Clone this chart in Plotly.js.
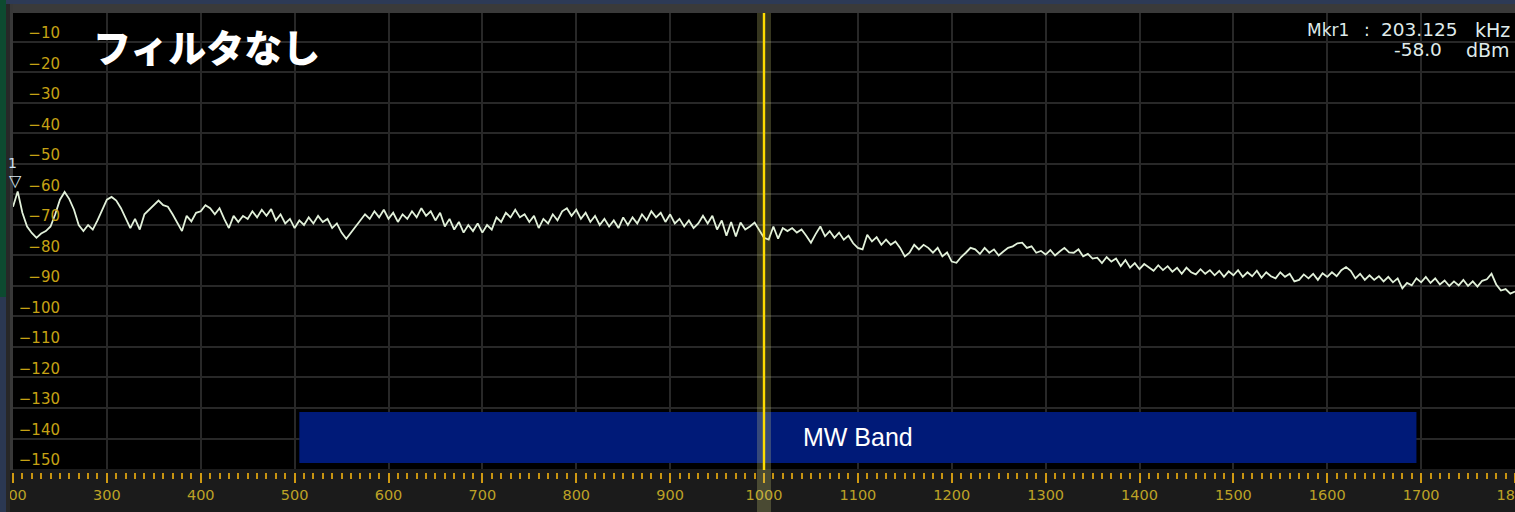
<!DOCTYPE html>
<html><head><meta charset="utf-8">
<script src="https://cdn.plot.ly/plotly-3.0.1.min.js"></script>
<style>html,body{margin:0;padding:0;background:#1b1b1b;overflow:hidden}#chart{width:1515px;height:512px}</style>
</head><body><div id="chart"></div>
<script>
// ---- data ----
const freqStartKHz = 200;
const freqStepKHz = 5;
const levelsDbm = [
-64,-59,-66,-70.5,-72.6,-74.2,-72.8,-72,-70.5,-66.5,
-61.7,-59.2,-61.5,-65,-70,-72,-70,-71.5,-68.5,-65,
-61.7,-60.8,-62,-64.5,-67.5,-71,-68,-71.5,-66.5,-65,
-63.5,-62,-63.5,-64,-66.5,-69.5,-72,-67,-68.8,-66,
-65.5,-63.5,-64.5,-66.5,-64.5,-68,-71,-67,-69,-67,
-68,-65.5,-67.5,-65,-67,-64.8,-68.5,-66.5,-69.5,-68,
-71,-68.5,-70,-67.5,-69.5,-67,-69,-68,-71,-69.5,
-72.5,-74.5,-72.5,-70.5,-68.5,-66.5,-68,-65.5,-67.5,-65,
-68,-66,-69,-66.5,-68,-65.5,-67.5,-64.5,-67,-65.5,
-68.5,-66,-70.5,-68,-71.5,-69,-72.5,-70,-72,-69.5,
-72.5,-70,-71.5,-67.5,-69,-66,-67.5,-65,-67.5,-66.5,
-69,-67,-71,-68,-69.5,-66.5,-68.5,-65.5,-64.5,-67,
-65,-68,-66,-69,-67,-70,-68,-70.5,-68.5,-71,
-67.5,-70,-67.5,-69.5,-66.5,-68.5,-65.5,-67.5,-66,-69,
-66.5,-69.5,-68,-70.5,-68.5,-71,-69.5,-67,-69.5,-67,
-71.5,-68.5,-73.5,-69,-73.8,-69.2,-71.5,-70.5,-69.2,-71.5,
-74.2,-74.8,-70.5,-74.5,-71,-72,-71,-72.5,-71.5,-73.5,
-75.8,-73,-70.5,-73.7,-72,-74.2,-72.5,-74.8,-73.5,-76,
-77.5,-78,-73.2,-75.4,-74,-76.5,-74.8,-76.5,-75.4,-77.5,
-80.3,-79.1,-76.5,-78,-76.5,-77.5,-79.1,-77.5,-80.3,-79,
-82,-82.4,-80.5,-79.1,-77.5,-78,-79.5,-77.5,-79.1,-78,
-80,-78.7,-77.5,-77,-76,-75.8,-77.5,-77,-79.1,-78.5,
-79.7,-78.2,-80,-78.7,-77.5,-79,-79.1,-78,-80.3,-79.5,
-81,-80.7,-82.5,-80.5,-82,-81,-83.5,-81.5,-84,-82.5,
-84.5,-82.8,-84,-85,-83.2,-84.8,-83.5,-85.3,-84,-86,
-84,-85.5,-86.2,-84.5,-86,-84.8,-86.5,-85,-87,-85.2,
-86.5,-84.8,-87,-85.5,-86.8,-85,-87.3,-85.5,-86.8,-87.5,
-85.5,-87,-86,-88.5,-88,-86.2,-87.5,-86,-88,-85.8,
-87,-85.5,-86.8,-84.8,-83.8,-85,-87.5,-86,-88,-86.5,
-88,-86.8,-88.5,-87,-88.8,-87.5,-90.8,-89,-89.8,-87.5,
-88.8,-87,-89,-87.5,-89.5,-88.2,-90,-88.5,-89.8,-88,
-90,-88.5,-90.2,-88.3,-87.8,-86,-89.5,-91.5,-91,-92.5,
-91.8
];
const freqKHz = levelsDbm.map((_, i) => freqStartKHz + i * freqStepKHz);
const xTickVals = [200,300,400,500,600,700,800,900,1000,1100,1200,1300,1400,1500,1600,1700,1800];
const yTickVals = [-10,-20,-30,-40,-50,-60,-70,-80,-90,-100,-110,-120,-130,-140,-150];
const markerFreqKHz = [203.125];
const markerLevelDbm = [-58.0];
const tunedFreqKHz = [1000];
const mwBandKHz = [505, 1695];
const mwBandLevelDbm = [-148, -131.3];
const titleText = 'フィルタなし';
const bandLabel = 'MW Band';

// ---- layout helpers (pixel -> paper) ----
const W = 1515, H = 512, mL = 13, mR = 0, mT = 13, mB = 43;
const pw = W - mL - mR, ph = H - mT - mB;
const px = v => (v - mL) / pw;
const py = v => 1 - (v - mT) / ph;

const labelColor = '#c6a214';
const mkrColor = '#dfeaea';

const trace = {
  type: 'scatter', mode: 'lines', x: freqKHz, y: levelsDbm,
  line: {color: '#e2f1da', width: 1.8}, hoverinfo: 'skip', showlegend: false
};

const shapes = [
  {type:'rect', xref:'x', yref:'y', x0: mwBandKHz[0], x1: mwBandKHz[1], y0: mwBandLevelDbm[0], y1: mwBandLevelDbm[1],
   fillcolor:'#001a78', line:{width:0}, layer:'above'},
  {type:'rect', xref:'paper', yref:'paper', x0:-0.01, x1:1.01, y0: py(473), y1: 0, fillcolor:'#1b1b1b', line:{width:0}, layer:'above'},
  {type:'rect', xref:'paper', yref:'paper', x0:-0.02, x1:1.02, y0: py(4), y1: py(-2), fillcolor:'#2d3a56', line:{width:0}, layer:'above'},
  {type:'rect', xref:'paper', yref:'paper', x0:-0.02, x1:1.02, y0: 1, y1: py(4), fillcolor:'#3a3a3a', line:{width:0}, layer:'above'},
  {type:'rect', xref:'paper', yref:'paper', x0: px(-2), x1: px(6), y0: py(297), y1: py(-2), fillcolor:'#0d4a30', line:{width:0}, layer:'above'},
  {type:'rect', xref:'paper', yref:'paper', x0: px(-2), x1: px(6), y0: py(514), y1: py(297), fillcolor:'#2b3852', line:{width:0}, layer:'above'},
  {type:'rect', xref:'paper', yref:'paper', x0: px(6), x1: px(10), y0: py(514), y1: py(4), fillcolor:'#272727', line:{width:0}, layer:'above'},
  {type:'rect', xref:'paper', yref:'paper', x0: px(10), x1: px(13), y0: py(470), y1: py(4), fillcolor:'#383838', line:{width:0}, layer:'above'},
  {type:'rect', xref:'x', yref:'paper', xsizemode:'pixel', xanchor: tunedFreqKHz[0], x0:-7, x1:7, y0: py(512), y1: 1,
   fillcolor:'rgba(225,225,130,0.24)', line:{width:0}, layer:'above'},
  {type:'rect', xref:'x', yref:'paper', xsizemode:'pixel', xanchor: tunedFreqKHz[0], x0:-1.2, x1:1.2, y0: py(470), y1: 1,
   fillcolor:'#ffdc00', line:{width:0}, layer:'above'}
];

const annotations = [
  {xref:'paper', yref:'paper', x: px(206), y: py(45), xanchor:'center', yanchor:'middle', showarrow:false,
   text: titleText, font:{family:'Noto Sans CJK JP', size:38, color:'#ffffff', weight:900}},
  {xref:'x', yref:'y', x: (mwBandKHz[0] + mwBandKHz[1]) / 2, y: (mwBandLevelDbm[0] + mwBandLevelDbm[1]) / 2,
   showarrow:false, text: bandLabel, font:{family:'Liberation Sans', size:25, color:'#ffffff'}},
  {xref:'paper', yref:'paper', x: px(1305), y: py(30), xanchor:'left', yanchor:'middle', showarrow:false,
   text:'Mkr1', font:{family:'DejaVu Sans', size:17, color: mkrColor}},
  {xref:'paper', yref:'paper', x: px(1366.5), y: py(30), xanchor:'center', yanchor:'middle', showarrow:false,
   text:':', font:{family:'DejaVu Sans', size:17, color: mkrColor}},
  {xref:'paper', yref:'paper', x: px(1460), y: py(30), xanchor:'right', yanchor:'middle', showarrow:false,
   text: markerFreqKHz[0].toFixed(3), font:{family:'DejaVu Sans', size:18.5, color: mkrColor}},
  {xref:'paper', yref:'paper', x: px(1512), y: py(30), xanchor:'right', yanchor:'middle', showarrow:false,
   text:'kHz', font:{family:'DejaVu Sans', size:19, color: mkrColor}},
  {xref:'paper', yref:'paper', x: px(1444), y: py(50), xanchor:'right', yanchor:'middle', showarrow:false,
   text: markerLevelDbm[0].toFixed(1), font:{family:'DejaVu Sans', size:18.5, color: mkrColor}},
  {xref:'paper', yref:'paper', x: px(1512), y: py(50), xanchor:'right', yanchor:'middle', showarrow:false,
   text:'dBm', font:{family:'DejaVu Sans', size:19, color: mkrColor}},
  {xref:'x', yref:'y', x: markerFreqKHz[0], y: markerLevelDbm[0], xanchor:'center', yanchor:'bottom', yshift:-4,
   showarrow:false, text:'▽', font:{family:'DejaVu Sans', size:16, color:'#d8e6ee'}},
  {xref:'x', yref:'y', x: markerFreqKHz[0], y: markerLevelDbm[0], xanchor:'center', yanchor:'bottom', yshift:15, xshift:-3,
   showarrow:false, text:'1', font:{family:'DejaVu Sans', size:14, color:'#cfe3f5'}}
];

const layout = {
  width: W, height: H,
  margin: {l: mL, r: mR, t: mT, b: mB, pad: 0},
  paper_bgcolor: '#1b1b1b', plot_bgcolor: '#000000',
  showlegend: false,
  xaxis: {
    range: [freqStartKHz, 1800], tickmode:'array', tickvals: xTickVals,
    ticks:'outside', ticklen: 13, tickwidth: 2, tickcolor:'#d09a12',
    showgrid: true, gridcolor:'#282828', gridwidth: 2, zeroline:false, showline:false,
    tickfont: {family:'DejaVu Sans', size:14.5, color: '#bda226'},
    ticklabeloverflow: 'allow',
    minor: {tickmode:'linear', tick0: 200, dtick: 10, ticks:'outside', ticklen: 9, tickwidth: 2, tickcolor:'#c89410', showgrid:false},
    fixedrange: true
  },
  yaxis: {
    range: [-150, -0.5], tickmode:'array', tickvals: yTickVals,
    ticks:'', anchor:'free', position: px(60), side:'left',
    showgrid: true, gridcolor:'#282828', gridwidth: 2, zeroline:false, showline:false,
    tickfont: {family:'DejaVu Sans', size:15, color: labelColor},
    ticklabelshift: -9, ticklabelstandoff: 0, ticklabeloverflow: 'allow',
    fixedrange: true
  },
  shapes: shapes,
  annotations: annotations
};

Plotly.newPlot('chart', [trace], layout, {staticPlot: true, displayModeBar: false});
</script>
</body></html>
